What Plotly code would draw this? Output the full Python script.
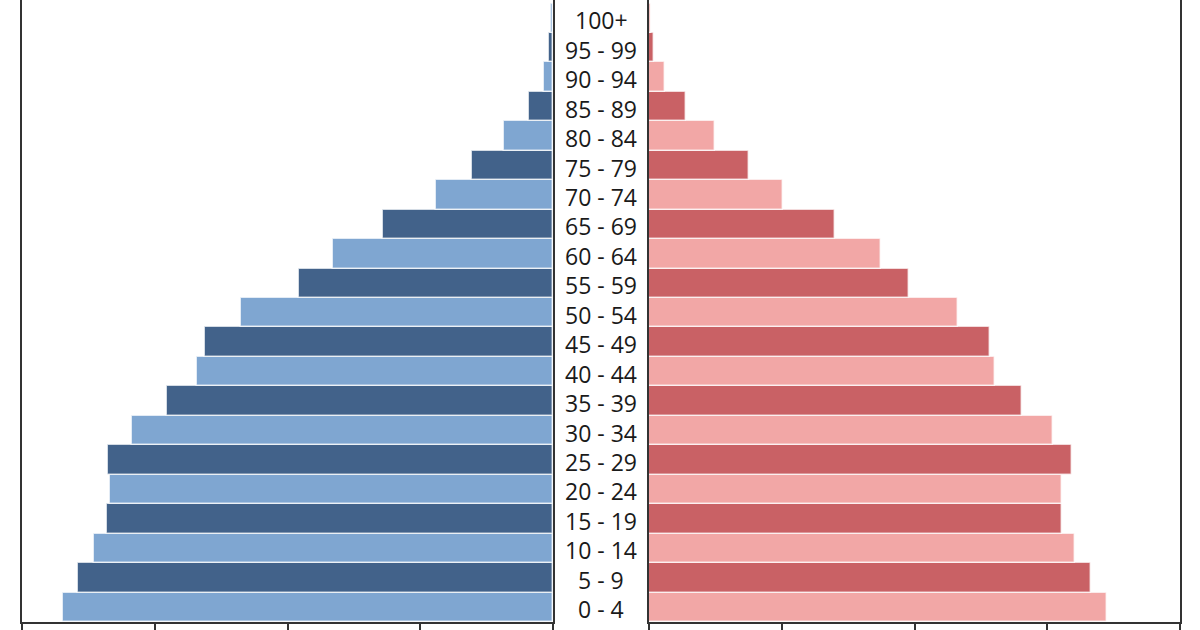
import plotly.graph_objects as go

# age groups, bottom to top
age_groups = ["0 - 4", "5 - 9", "10 - 14", "15 - 19", "20 - 24", "25 - 29",
              "30 - 34", "35 - 39", "40 - 44", "45 - 49", "50 - 54", "55 - 59",
              "60 - 64", "65 - 69", "70 - 74", "75 - 79", "80 - 84", "85 - 89",
              "90 - 94", "95 - 99", "100+"]

male = [3.69, 3.58, 3.46, 3.36, 3.34, 3.35, 3.17, 2.91, 2.68, 2.62, 2.35,
        1.91, 1.66, 1.28, 0.88, 0.61, 0.37, 0.18, 0.07, 0.03, 0.015]

female = [3.45, 3.33, 3.21, 3.11, 3.11, 3.19, 3.04, 2.81, 2.61, 2.57, 2.33,
          1.96, 1.75, 1.40, 1.01, 0.75, 0.50, 0.28, 0.12, 0.04, 0.015]

tick_vals = [0, 1, 2, 3, 4]

# alternating light / dark shades per row
male_cols = ["#7fa6d1" if i % 2 == 0 else "#42628a" for i in range(len(age_groups))]
female_cols = ["#f2a7a6" if i % 2 == 0 else "#c96165" for i in range(len(age_groups))]

fig = go.Figure()
fig.add_trace(go.Bar(y=age_groups, x=male, orientation="h", xaxis="x", yaxis="y",
                     marker=dict(color=male_cols, line=dict(color="rgba(255,255,255,0.7)", width=1.5)),
                     name="Male", showlegend=False))
fig.add_trace(go.Bar(y=age_groups, x=female, orientation="h", xaxis="x2", yaxis="y2",
                     marker=dict(color=female_cols, line=dict(color="rgba(255,255,255,0.7)", width=1.5)),
                     name="Female", showlegend=False))

# age labels in the gap between the two panels
for g in age_groups:
    fig.add_annotation(text=g, x=601 / 1200, xref="paper", y=g, yref="y",
                       showarrow=False, xanchor="center", yanchor="middle", yshift=-2,
                       font=dict(family="Open Sans", size=23, color="#1a1a1a"))

axis_x = dict(showline=True, linecolor="#333333", linewidth=2, ticks="outside",
              ticklen=8, tickwidth=2, tickcolor="#333333", tickvals=tick_vals,
              showticklabels=False, showgrid=False, zeroline=False)
axis_y = dict(showline=True, mirror=True, linecolor="#333333", linewidth=2,
              showticklabels=False, ticks="", showgrid=False, zeroline=False,
              categoryorder="array", categoryarray=age_groups, range=[-0.5, 20.62])

fig.update_layout(
    width=1200, height=630,
    margin=dict(l=0, r=0, t=0, b=6),
    plot_bgcolor="white", paper_bgcolor="white",
    bargap=0,
    xaxis=dict(axis_x, domain=[22 / 1200, 553 / 1200], range=[4, 0]),
    xaxis2=dict(axis_x, domain=[649 / 1200, 1180 / 1200], range=[0, 4]),
    yaxis=dict(axis_y, anchor="x"),
    yaxis2=dict(axis_y, anchor="x2"),
)

# drop the browser's default page margin so the figure sits at 0,0
fig.write_html("out.html", config={"displayModeBar": False},
               post_script="document.body.style.margin='0';")
